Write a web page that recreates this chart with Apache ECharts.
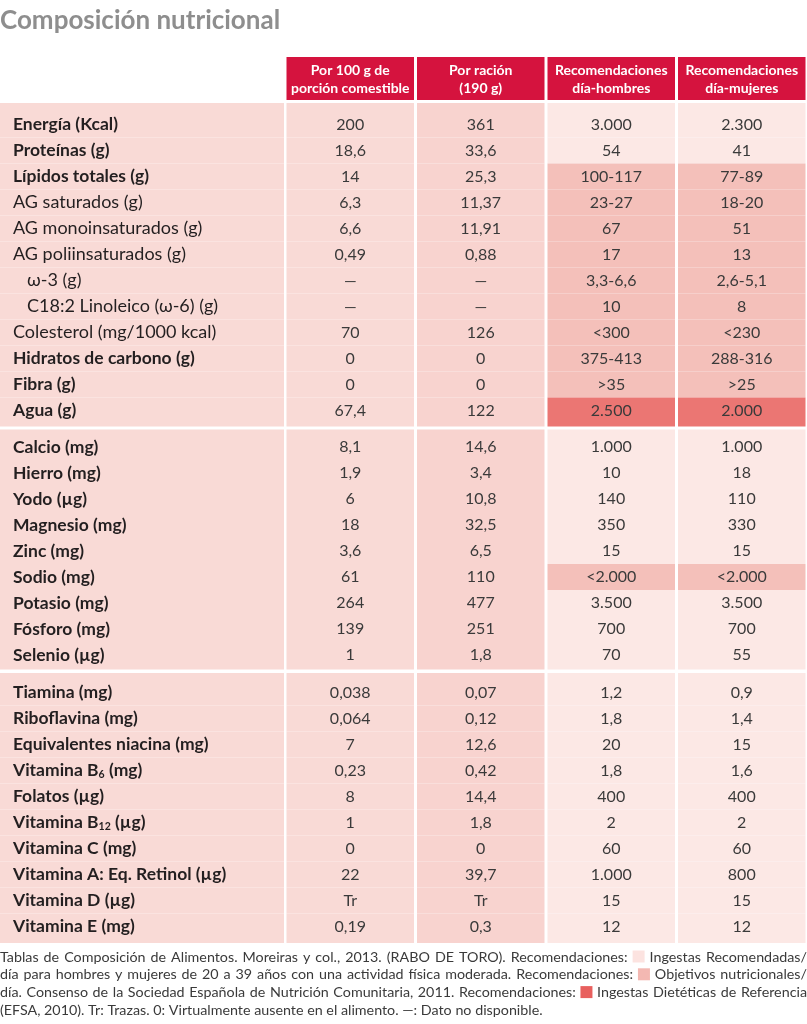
<!DOCTYPE html>
<html><head><meta charset="utf-8">
<script src="https://cdn.jsdelivr.net/npm/echarts@6/dist/echarts.min.js"></script>
<style>html,body{margin:0;padding:0;background:#fff}#chart{width:807px;height:1024px}</style>
</head><body><div id="chart"></div>
<script>
// ---------------- DATA ----------------
const titleText = 'Composición nutricional';
const columnHeaders = ['Por 100 g de\nporción comestible', 'Por ración\n(190 g)', 'Recomendaciones\ndía-hombres', 'Recomendaciones\ndía-mujeres'];

// Section 1: macronutrients
const s1Labels = ['Energía (Kcal)', 'Proteínas (g)', 'Lípidos totales (g)', 'AG saturados (g)', 'AG monoinsaturados (g)', 'AG poliinsaturados (g)', 'ω-3 (g)', 'C18:2 Linoleico (ω-6) (g)', 'Colesterol (mg/1000 kcal)', 'Hidratos de carbono (g)', 'Fibra (g)', 'Agua (g)'];
const s1Level = [0, 0, 0, 1, 1, 1, 2, 2, 1, 0, 0, 0];
const s1Per100 = ['200', '18,6', '14', '6,3', '6,6', '0,49', '—', '—', '70', '0', '0', '67,4'];
const s1PerRacion = ['361', '33,6', '25,3', '11,37', '11,91', '0,88', '—', '—', '126', '0', '0', '122'];
const s1RecHombres = ['3.000', '54', '100-117', '23-27', '67', '17', '3,3-6,6', '10', '<300', '375-413', '>35', '2.500'];
const s1RecMujeres = ['2.300', '41', '77-89', '18-20', '51', '13', '2,6-5,1', '8', '<230', '288-316', '>25', '2.000'];
const s1RecType = ['IR', 'IR', 'ON', 'ON', 'ON', 'ON', 'ON', 'ON', 'ON', 'ON', 'ON', 'IDR'];

// Section 2: minerals
const s2Labels = ['Calcio (mg)', 'Hierro (mg)', 'Yodo (µg)', 'Magnesio (mg)', 'Zinc (mg)', 'Sodio (mg)', 'Potasio (mg)', 'Fósforo (mg)', 'Selenio (µg)'];
const s2Level = [0, 0, 0, 0, 0, 0, 0, 0, 0];
const s2Per100 = ['8,1', '1,9', '6', '18', '3,6', '61', '264', '139', '1'];
const s2PerRacion = ['14,6', '3,4', '10,8', '32,5', '6,5', '110', '477', '251', '1,8'];
const s2RecHombres = ['1.000', '10', '140', '350', '15', '<2.000', '3.500', '700', '70'];
const s2RecMujeres = ['1.000', '18', '110', '330', '15', '<2.000', '3.500', '700', '55'];
const s2RecType = ['IR', 'IR', 'IR', 'IR', 'IR', 'ON', 'IR', 'IR', 'IR'];

// Section 3: vitamins
const s3Labels = ['Tiamina (mg)', 'Riboflavina (mg)', 'Equivalentes niacina (mg)', 'Vitamina B₆ (mg)', 'Folatos (µg)', 'Vitamina B₁₂ (µg)', 'Vitamina C (mg)', 'Vitamina A: Eq. Retinol (µg)', 'Vitamina D (µg)', 'Vitamina E (mg)'];
const s3Level = [0, 0, 0, 0, 0, 0, 0, 0, 0, 0];
const s3Per100 = ['0,038', '0,064', '7', '0,23', '8', '1', '0', '22', 'Tr', '0,19'];
const s3PerRacion = ['0,07', '0,12', '12,6', '0,42', '14,4', '1,8', '0', '39,7', 'Tr', '0,3'];
const s3RecHombres = ['1,2', '1,8', '20', '1,8', '400', '2', '60', '1.000', '15', '12'];
const s3RecMujeres = ['0,9', '1,4', '15', '1,6', '400', '2', '60', '800', '15', '12'];
const s3RecType = ['IR', 'IR', 'IR', 'IR', 'IR', 'IR', 'IR', 'IR', 'IR', 'IR'];

const footLines = [
  ['Tablas de Composición de Alimentos. Moreiras y col., 2013. (RABO DE TORO). Recomendaciones: ', 'IR', ' Ingestas Recomendadas/'],
  ['día para hombres y mujeres de 20 a 39 años con una actividad física moderada. Recomendaciones: ', 'ON', ' Objetivos nutricionales/'],
  ['día. Consenso de la Sociedad Española de Nutrición Comunitaria, 2011. Recomendaciones: ', 'IDR', ' Ingestas Dietéticas de Referencia'],
  ['(EFSA, 2010). Tr: Trazas. 0: Virtualmente ausente en el alimento. —: Dato no disponible.']
];

// ---------------- STYLE / LAYOUT ----------------
const FONT = 'Lato, "Noto Sans", "DejaVu Sans", sans-serif';
const RED = '#d5133e';
const BASE_BG = ['#f9dad6', '#f8d3cf'];
const REC_COLORS = { IR: '#fce8e5', ON: '#f4c0ba', IDR: '#eb7673' };
const FOOT_SQ = { IR: '#fce3e0', ON: '#f3b8b2', IDR: '#e8605e' };
const TXT_VAL = '#3a3a3a';
const TXT_LAB = '#231f20';
const ROW_H = 26;
const FOOT_FS = 14.3;

const sections = [
  { labels: s1Labels, level: s1Level, cols: [s1Per100, s1PerRacion, s1RecHombres, s1RecMujeres], rec: s1RecType, top: 111.5, padTop: 8.5, padBottom: 3 },
  { labels: s2Labels, level: s2Level, cols: [s2Per100, s2PerRacion, s2RecHombres, s2RecMujeres], rec: s2RecType, top: 434, padTop: 4.5, padBottom: 1.5 },
  { labels: s3Labels, level: s3Level, cols: [s3Per100, s3PerRacion, s3RecHombres, s3RecMujeres], rec: s3RecType, top: 679.5, padTop: 6.5, padBottom: 3.5 }
];

const richStyles = {
  b: { fontFamily: FONT, fontWeight: 'bold', fontSize: 17.5, fill: TXT_LAB, lineHeight: 20 },
  bs: { fontFamily: FONT, fontWeight: 'bold', fontSize: 10.5, fill: TXT_LAB, lineHeight: 10, verticalAlign: 'bottom' },
  r: { fontFamily: FONT, fontWeight: 'normal', fontSize: 18, fill: TXT_LAB, lineHeight: 20 },
  rs: { fontFamily: FONT, fontWeight: 'normal', fontSize: 10.5, fill: TXT_LAB, lineHeight: 10, verticalAlign: 'bottom' }
};
const SUBS = '₀₁₂₃₄₅₆₇₈₉';
function labelRich(label, bold) {
  const base = bold ? 'b' : 'r';
  return label.split(/([₀-₉]+)/).filter(p => p).map(p => {
    if (/[₀-₉]/.test(p)) {
      const digits = p.split('').map(ch => SUBS.indexOf(ch)).join('');
      return '{' + base + 's|' + digits + '}';
    }
    return '{' + base + '|' + p + '}';
  }).join('');
}

// ---------------- BUILD OPTION ----------------
const grids = [], xAxes = [], yAxes = [], series = [];

// header grid
grids.push({ left: 285, right: 0, top: 57, height: 43 });
xAxes.push({ type: 'category', gridIndex: 0, data: columnHeaders, show: false });
yAxes.push({ type: 'category', gridIndex: 0, data: ['h'], show: false });
series.push({
  type: 'custom', xAxisIndex: 0, yAxisIndex: 0, silent: true,
  data: columnHeaders.map((h, i) => [i, 0, h]),
  renderItem: function (params, api) {
    const c = api.coord([api.value(0), api.value(1)]);
    const s = api.size([1, 1]);
    const text = columnHeaders[api.value(0)];
    return { type: 'group', children: [
      { type: 'rect', shape: { x: c[0] - s[0] / 2 + 1.5, y: c[1] - s[1] / 2, width: s[0] - 3, height: s[1] }, style: { fill: RED } },
      { type: 'text', style: { text: text, x: c[0], y: c[1] + 1, align: 'center', verticalAlign: 'middle', fill: '#ffffff', fontFamily: FONT, fontWeight: 'bold', fontSize: 14, lineHeight: 18 } }
    ] };
  }
});

sections.forEach((sec, si) => {
  const n = sec.labels.length;
  const gL = grids.length;
  grids.push({ left: 0, width: 284, top: sec.top, height: n * ROW_H });
  xAxes.push({ type: 'category', gridIndex: gL, data: ['label'], show: false });
  yAxes.push({ type: 'category', gridIndex: gL, data: sec.labels, inverse: true, show: false });
  const gV = grids.length;
  grids.push({ left: 285, right: 0, top: sec.top, height: n * ROW_H });
  xAxes.push({ type: 'category', gridIndex: gV, data: columnHeaders, show: false });
  yAxes.push({ type: 'category', gridIndex: gV, data: sec.labels, inverse: true, show: false });

  function vExtent(r, cy, h) {
    let top = cy - h / 2, bottom = cy + h / 2;
    if (r === 0) top -= sec.padTop;
    if (r === n - 1) bottom += sec.padBottom;
    return [top, bottom];
  }

  // label column
  series.push({
    type: 'custom', xAxisIndex: gL, yAxisIndex: gL, silent: true,
    data: sec.labels.map((l, r) => [0, r]),
    renderItem: function (params, api) {
      const r = api.value(1);
      const c = api.coord([0, r]);
      const s = api.size([1, 1]);
      const ext = vExtent(r, c[1], s[1]);
      const lvl = sec.level[r];
      return { type: 'group', children: [
        { type: 'rect', shape: { x: c[0] - s[0] / 2, y: ext[0], width: s[0], height: ext[1] - ext[0] }, style: { fill: BASE_BG[0] } },
        { type: 'text', style: { text: labelRich(sec.labels[r], lvl === 0), rich: richStyles, x: lvl === 2 ? 27 : 13, y: c[1], align: 'left', verticalAlign: 'middle' } }
      ] };
    }
  });

  // value columns
  const vdata = [];
  sec.cols.forEach((col, ci) => col.forEach((v, r) => vdata.push([ci, r, v])));
  series.push({
    type: 'custom', xAxisIndex: gV, yAxisIndex: gV, silent: true,
    data: vdata,
    renderItem: function (params, api) {
      const ci = api.value(0), r = api.value(1);
      const c = api.coord([ci, r]);
      const s = api.size([1, 1]);
      const ext = vExtent(r, c[1], s[1]);
      const fill = ci < 2 ? BASE_BG[ci] : REC_COLORS[sec.rec[r]];
      const text = sec.cols[ci][r];
      return { type: 'group', children: [
        { type: 'rect', shape: { x: c[0] - s[0] / 2 + 1.5, y: ext[0], width: s[0] - 3, height: ext[1] - ext[0] }, style: { fill: fill } },
        { type: 'text', style: { text: text, x: c[0], y: c[1], align: 'center', verticalAlign: 'middle', fill: TXT_VAL, fontFamily: FONT, fontSize: 16 } }
      ] };
    }
  });
});

// footnote: justified lines (first three) built from words
const measureCtx = document.createElement('canvas').getContext('2d');
measureCtx.font = FOOT_FS + 'px ' + FONT;
const SQ = 12;
const footGraphics = [];
footLines.forEach((parts, li) => {
  const tokens = [];
  parts.forEach(p => {
    if (REC_COLORS[p]) tokens.push({ sq: p });
    else p.split(' ').filter(w => w).forEach(w => tokens.push({ w: w }));
  });
  const widths = tokens.map(t => t.sq ? SQ : measureCtx.measureText(t.w).width);
  const total = widths.reduce((a, b) => a + b, 0);
  const gaps = tokens.length - 1;
  const spaceW = measureCtx.measureText(' ').width;
  const justify = li < footLines.length - 1;
  const gapW = justify ? (807 - total) / gaps : spaceW;
  let x = 0;
  const y = 957 + li * 17.8;
  tokens.forEach((t, i) => {
    if (t.sq) {
      footGraphics.push({ type: 'rect', silent: true, shape: { x: x, y: y - SQ / 2 - 0.5, width: SQ, height: SQ }, style: { fill: FOOT_SQ[t.sq] } });
    } else {
      footGraphics.push({ type: 'text', silent: true, x: x, y: y, style: { text: t.w, fill: '#3a3a3a', font: FOOT_FS + 'px ' + FONT, verticalAlign: 'middle', align: 'left' } });
    }
    x += widths[i] + gapW;
  });
});

const option = {
  animation: false,
  backgroundColor: '#ffffff',
  title: { text: titleText, left: 0, top: 8, padding: 0, textStyle: { fontFamily: FONT, fontSize: 26, fontWeight: 'bold', color: '#8e8e8e' } },
  grid: grids, xAxis: xAxes, yAxis: yAxes, series: series,
  graphic: footGraphics
};
echarts.init(document.getElementById('chart'), null, { renderer: 'canvas' }).setOption(option);
</script></body></html>
